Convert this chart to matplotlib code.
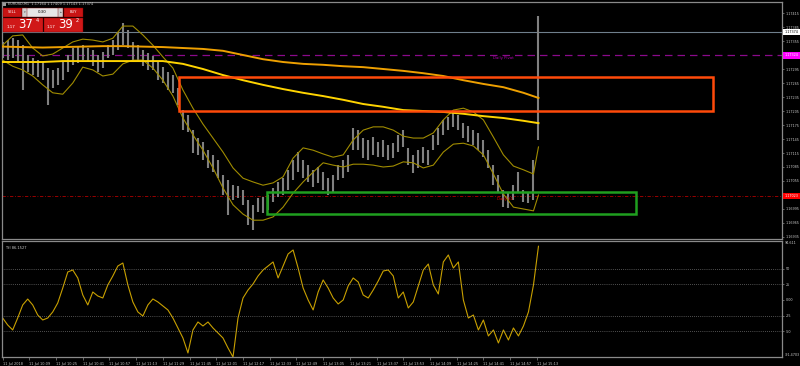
#!/usr/bin/env python3
"""EURUSD M1 chart with bands, moving averages, zones and TSI pane (MT4 style)."""

import matplotlib
matplotlib.use("Agg")
import matplotlib.pyplot as plt
import matplotlib.transforms as mtransforms
from matplotlib.patches import Rectangle

# ---- data (minutes after 11 Jul 09:53) ----
bar_times = list(range(0, 322, 3))
bar_high = [
    1.17353, 1.17357, 1.17361, 1.17357, 1.17346, 1.17325, 1.17319, 1.17314, 1.17310, 1.17297,
    1.17293, 1.17297, 1.17310, 1.17325, 1.17340, 1.17342, 1.17346, 1.17340, 1.17336, 1.17325,
    1.17331, 1.17346, 1.17357, 1.17374, 1.17394, 1.17379, 1.17353, 1.17346, 1.17336, 1.17329,
    1.17323, 1.17310, 1.17299, 1.17289, 1.17282, 1.17254, 1.17207, 1.17196, 1.17164, 1.17147,
    1.17139, 1.17121, 1.17111, 1.17100, 1.17068, 1.17057, 1.17046, 1.17044, 1.17036, 1.17014,
    1.17004, 1.17019, 1.17021, 1.17025, 1.17040, 1.17053, 1.17061, 1.17079, 1.17100, 1.17117,
    1.17100, 1.17089, 1.17079, 1.17085, 1.17074, 1.17061, 1.17068, 1.17089, 1.17100, 1.17111,
    1.17169, 1.17164, 1.17147, 1.17143, 1.17149, 1.17139, 1.17143, 1.17132, 1.17136, 1.17154,
    1.17164, 1.17126, 1.17111, 1.17121, 1.17128, 1.17121, 1.17154, 1.17169, 1.17186, 1.17192,
    1.17201, 1.17196, 1.17179, 1.17173, 1.17164, 1.17158, 1.17143, 1.17121, 1.17089, 1.17068,
    1.17036, 1.17031, 1.17046, 1.17074, 1.17036, 1.17031, 1.17100, 1.17409,
]
bar_low = [
    1.17319, 1.17314, 1.17319, 1.17310, 1.17250, 1.17289, 1.17282, 1.17278, 1.17271, 1.17218,
    1.17254, 1.17261, 1.17271, 1.17289, 1.17304, 1.17308, 1.17314, 1.17310, 1.17301, 1.17289,
    1.17297, 1.17319, 1.17325, 1.17336, 1.17346, 1.17340, 1.17314, 1.17310, 1.17301, 1.17293,
    1.17293, 1.17271, 1.17265, 1.17250, 1.17244, 1.17218, 1.17164, 1.17160, 1.17115, 1.17111,
    1.17100, 1.17083, 1.17074, 1.17061, 1.17025, 1.16982, 1.17014, 1.17019, 1.17004, 1.16961,
    1.16950, 1.16989, 1.16986, 1.16993, 1.17010, 1.17021, 1.17025, 1.17036, 1.17057, 1.17074,
    1.17061, 1.17053, 1.17042, 1.17051, 1.17036, 1.17025, 1.17031, 1.17057, 1.17061, 1.17074,
    1.17121, 1.17121, 1.17104, 1.17100, 1.17111, 1.17106, 1.17106, 1.17100, 1.17104, 1.17117,
    1.17128, 1.17089, 1.17072, 1.17083, 1.17094, 1.17089, 1.17121, 1.17132, 1.17154, 1.17164,
    1.17171, 1.17164, 1.17147, 1.17139, 1.17132, 1.17121, 1.17106, 1.17083, 1.17046, 1.17031,
    1.16999, 1.16997, 1.17014, 1.17029, 1.17010, 1.17008, 1.17014, 1.17143,
]

band_times = list(range(0, 319, 6)) + [321]
band_upper = [
    1.17346, 1.17366, 1.17368, 1.17340, 1.17323, 1.17327, 1.17340, 1.17353, 1.17359, 1.17357,
    1.17353, 1.17361, 1.17387, 1.17387, 1.17368, 1.17346, 1.17321, 1.17297, 1.17250, 1.17211,
    1.17177, 1.17147, 1.17117, 1.17083, 1.17061, 1.17053, 1.17046, 1.17051, 1.17064, 1.17104,
    1.17126, 1.17121, 1.17113, 1.17106, 1.17111, 1.17143, 1.17164, 1.17171, 1.17171, 1.17164,
    1.17151, 1.17147, 1.17147, 1.17158, 1.17186, 1.17207, 1.17211, 1.17203, 1.17186, 1.17149,
    1.17111, 1.17087, 1.17079, 1.17070, 1.17128,
]
band_lower = [
    1.17314, 1.17301, 1.17293, 1.17280, 1.17261, 1.17244, 1.17241, 1.17265, 1.17299, 1.17293,
    1.17280, 1.17284, 1.17306, 1.17314, 1.17314, 1.17297, 1.17271, 1.17237, 1.17190, 1.17154,
    1.17121, 1.17083, 1.17040, 1.17004, 1.16984, 1.16971, 1.16971, 1.16978, 1.16999, 1.17029,
    1.17053, 1.17074, 1.17094, 1.17089, 1.17085, 1.17091, 1.17091, 1.17089, 1.17085, 1.17087,
    1.17096, 1.17094, 1.17083, 1.17089, 1.17117, 1.17134, 1.17136, 1.17130, 1.17111, 1.17070,
    1.17027, 1.16999, 1.16995, 1.16991, 1.17025,
]

ma_times = list(range(0, 313, 12)) + [321]
ma_slow = [
    1.17343, 1.17342, 1.17341, 1.17342, 1.17343, 1.17344, 1.17344, 1.17343, 1.17342, 1.17340,
    1.17338, 1.17334, 1.17325, 1.17316, 1.17310, 1.17306, 1.17304, 1.17301, 1.17299, 1.17295,
    1.17291, 1.17286, 1.17280, 1.17271, 1.17263, 1.17256, 1.17244, 1.17233,
]
ma_fast = [
    1.17310, 1.17310, 1.17310, 1.17312, 1.17312, 1.17312, 1.17312, 1.17312, 1.17312, 1.17306,
    1.17295, 1.17282, 1.17271, 1.17261, 1.17252, 1.17244, 1.17237, 1.17229, 1.17220, 1.17214,
    1.17207, 1.17205, 1.17203, 1.17199, 1.17194, 1.17190, 1.17184, 1.17179,
]

tsi_values = [
    -28.9, -40.1, -48.1, -28.9, -8.0, 1.5, -8.0, -24.1, -32.1, -28.9,
    -19.2, -4.8, 19.2, 44.9, 48.1, 35.3, 8.0, -8.0, 12.8, 6.4,
    3.2, 24.1, 38.5, 54.5, 59.3, 24.1, -3.2, -19.2, -25.7, -8.0,
    1.6, -3.2, -9.6, -16.0, -28.9, -44.9, -61.0, -85.0, -48.1, -35.3,
    -41.7, -35.3, -44.9, -52.9, -61.0, -77.0, -91.47, -28.9, 3.2, 16.0,
    25.7, 38.5, 48.1, 54.5, 61.0, 35.3, 54.5, 73.8, 80.2, 51.3,
    19.2, 0.0, -16.0, 12.8, 32.1, 19.2, 3.2, -6.4, 0.0, 22.5,
    35.3, 28.9, 8.0, 3.2, 16.0, 30.5, 46.5, 48.1, 38.5, 3.2,
    12.8, -12.8, -3.2, 22.5, 48.1, 57.7, 24.1, 9.6, 61.0, 72.2,
    51.3, 61.0, 0.0, -28.9, -24.1, -48.1, -32.1, -57.7, -48.1, -69.0,
    -48.1, -64.2, -44.9, -57.7, -41.7, -19.2, 24.1, 86.15,
]
tsi_levels = [50, 25, -25, -50]
tsi_range = (-91.4703, 94.611)

price_ticks = [1.16935, 1.16965, 1.16995, 1.17025, 1.17055, 1.17085, 1.17115, 1.17145, 1.17175,
               1.17205, 1.17235, 1.17265, 1.17295, 1.17325, 1.17355, 1.17385, 1.17415]
price_range = (1.169307, 1.174386)

time_ticks = [0, 16, 32, 48, 64, 80, 96, 112, 128, 144, 160, 176, 192, 208, 224, 240,
              256, 272, 288, 304, 320]
time_labels = ["11 Jul 2018", "11 Jul 10:09", "11 Jul 10:25", "11 Jul 10:41", "11 Jul 10:57",
               "11 Jul 11:13", "11 Jul 11:29", "11 Jul 11:45", "11 Jul 12:01", "11 Jul 12:17",
               "11 Jul 12:33", "11 Jul 12:49", "11 Jul 13:05", "11 Jul 13:21", "11 Jul 13:37",
               "11 Jul 13:53", "11 Jul 14:09", "11 Jul 14:25", "11 Jul 14:41", "11 Jul 14:57",
               "11 Jul 15:13"]

bid_price = 1.17374
pivot_price = 1.17324
s1_price = 1.17023
supply_zone = (105.5, 425.5, 1.17204, 1.17277)   # t0, t1, low, high
demand_zone = (158.6, 379.7, 1.16984, 1.17031)
header = "EURUSD,M1  1.17164 1.17409 1.17143 1.17374"

# ---- layout ----
W, H = 800, 366
FRAME = "#8a8a8a"
LABEL = "#c8c8c8"
plt.rcParams["font.family"] = ["DejaVu Sans"]

fig = plt.figure(figsize=(W / 100, H / 100), dpi=100, facecolor="black")


def box(left, top, right, bottom):
    return [left / W, 1 - bottom / H, (right - left) / W, (bottom - top) / H]


ax = fig.add_axes(box(2, 2, 782, 239))
ax2 = fig.add_axes(box(2, 241, 782, 357), sharex=ax)

for a in (ax, ax2):
    a.set_facecolor("black")
    for s in a.spines.values():
        s.set_color(FRAME)
        s.set_linewidth(0.9)
    a.yaxis.tick_right()
    a.tick_params(axis="y", colors=LABEL, labelsize=2.4, length=1.5, width=0.5, pad=1.0)
    a.tick_params(axis="y", color=FRAME)

ax.set_xlim(-0.4, 466.9)
ax.set_ylim(*price_range)
ax.set_yticks(price_ticks)
# ticks hidden behind the price tags keep their mark but no label
hidden = {f"{pivot_price + 0.00001:.5f}", f"{s1_price + 0.00002:.5f}"}
ax.set_yticklabels(["" if f"{p:.5f}" in hidden else f"{p:.5f}" for p in price_ticks])
ax.tick_params(axis="x", bottom=False, labelbottom=False)

# candles
ax.vlines(bar_times, bar_low, bar_high, color="#808080", lw=1.5, zorder=2)

# bollinger bands
ax.plot(band_times, band_upper, color="#a08c00", lw=0.8, zorder=3)
ax.plot(band_times, band_lower, color="#a08c00", lw=0.8, zorder=3)

# moving averages
ax.plot(ma_times, ma_slow, color="#eea000", lw=1.4, zorder=3)
ax.plot(ma_times, ma_fast, color="#ffd400", lw=1.4, zorder=3)

# levels
ax.axhline(bid_price, color="#6f7f8c", lw=0.8, zorder=1)
ax.axhline(pivot_price, color="#8b0a8b", lw=0.9, ls=(0, (6, 4)), zorder=1)
ax.axhline(s1_price, color="#b00000", lw=0.6, ls=(0, (4, 2, 1, 2)), zorder=1)
ax.text(294, pivot_price - 0.00002, "Daily Pivot", color="#b000b0", fontsize=2.8,
        va="top", ha="left")
ax.text(296, s1_price - 0.00002, "Daily S1", color="#e00000", fontsize=2.8,
        va="top", ha="left")

# zones
for (t0, t1, lo, hi), col in ((supply_zone, "#ff4a0a"), (demand_zone, "#1f9f1f")):
    ax.add_patch(Rectangle((t0, lo), t1 - t0, hi - lo, fill=False, ec=col, lw=1.8, zorder=4))

# price tags on the right scale
tr = mtransforms.blended_transform_factory(ax.transAxes, ax.transData)
for price, fc, tc in ((bid_price, "white", "black"), (pivot_price, "#ff00ff", "white"),
                      (s1_price, "#ff0000", "white")):
    ax.text(1.003, price, f"{price:.5f}", transform=tr, ha="left", va="center",
            fontsize=2.4, color=tc, clip_on=False, zorder=6,
            bbox=dict(boxstyle="square,pad=0.4", fc=fc, ec="none"))

# ---- TSI pane ----
ax2.plot(bar_times, tsi_values, color="#c8a000", lw=0.8)
ax2.set_ylim(*tsi_range)
for lv in tsi_levels:
    ax2.axhline(lv, color="#9a9a9a", lw=0.5, ls=(0, (1, 2)))
ax2.set_yticks([50, 25, 0, -25, -50])
ax2.set_yticklabels(["50", "25", "0.00", "-25", "-50"])
tr2 = mtransforms.blended_transform_factory(ax2.transAxes, ax2.transData)
ax2.text(1.004, tsi_range[1], f"{tsi_range[1]:.3f}", transform=tr2, ha="left", va="top",
         fontsize=2.4, color=LABEL, clip_on=False)
ax2.text(1.004, tsi_range[0], f"{tsi_range[0]:.4f}", transform=tr2, ha="left", va="bottom",
         fontsize=2.4, color=LABEL, clip_on=False)
ax2.text(0.004, 0.96, f"TSI {tsi_values[-1] + 0.0027:.4f}", transform=ax2.transAxes,
         fontsize=2.6, color=LABEL, va="top", ha="left")

ax2.set_xticks(time_ticks)
ax2.set_xticklabels(time_labels, ha="left")
ax2.tick_params(axis="x", colors=LABEL, labelsize=2.5, length=2, width=0.5, pad=1.5)
ax2.tick_params(axis="x", color=FRAME)

# ---- header and one-click trading panel ----
fig.text(8 / W, 1 - 4 / H, header, color=LABEL, fontsize=2.5, va="center", ha="left")
fig.add_artist(Rectangle((3 / W, 1 - 6 / H), 3 / W, 3 / H, transform=fig.transFigure,
                         fc="#9a9a9a", ec="none"))


def px_rect(left, top, right, bottom, fc):
    fig.add_artist(Rectangle((left / W, 1 - bottom / H), (right - left) / W, (bottom - top) / H,
                             transform=fig.transFigure, fc=fc, ec="#7a0000", lw=0.3))


def px_text(x, y, s, size, color="white", ha="center", **kw):
    fig.text(x / W, 1 - y / H, s, fontsize=size, color=color, ha=ha, va="center", **kw)


px_rect(3, 7.5, 21.5, 17, "#c81414")
px_rect(22, 7.5, 63, 17, "#e6e6e6")
px_rect(22, 8, 27, 16.5, "#cfcfcf")
px_rect(58, 8, 63, 16.5, "#cfcfcf")
px_rect(63.5, 7.5, 83, 17, "#c81414")
px_rect(3, 17.5, 43, 32, "#d01818")
px_rect(43.5, 17.5, 83, 32, "#d01818")
px_text(12, 12.3, "SELL", 2.6)
px_text(73, 12.3, "BUY", 2.6)
px_text(42.5, 12.3, "0.30", 2.8, color="black")
px_text(24.5, 12.3, "▾", 2.4, color="#555555")
px_text(60.5, 12.3, "▴", 2.4, color="#555555")
px_text(6.5, 26.5, "1.17", 3.0, ha="left")
px_text(18.5, 24.8, "37", 8.5, ha="left")
px_text(35.5, 20.5, "4", 3.6, ha="left")
px_text(46.5, 26.5, "1.17", 3.0, ha="left")
px_text(58.5, 24.8, "39", 8.5, ha="left")
px_text(75.5, 20.5, "2", 3.6, ha="left")

fig.savefig("out.png", dpi=100, facecolor="black")
